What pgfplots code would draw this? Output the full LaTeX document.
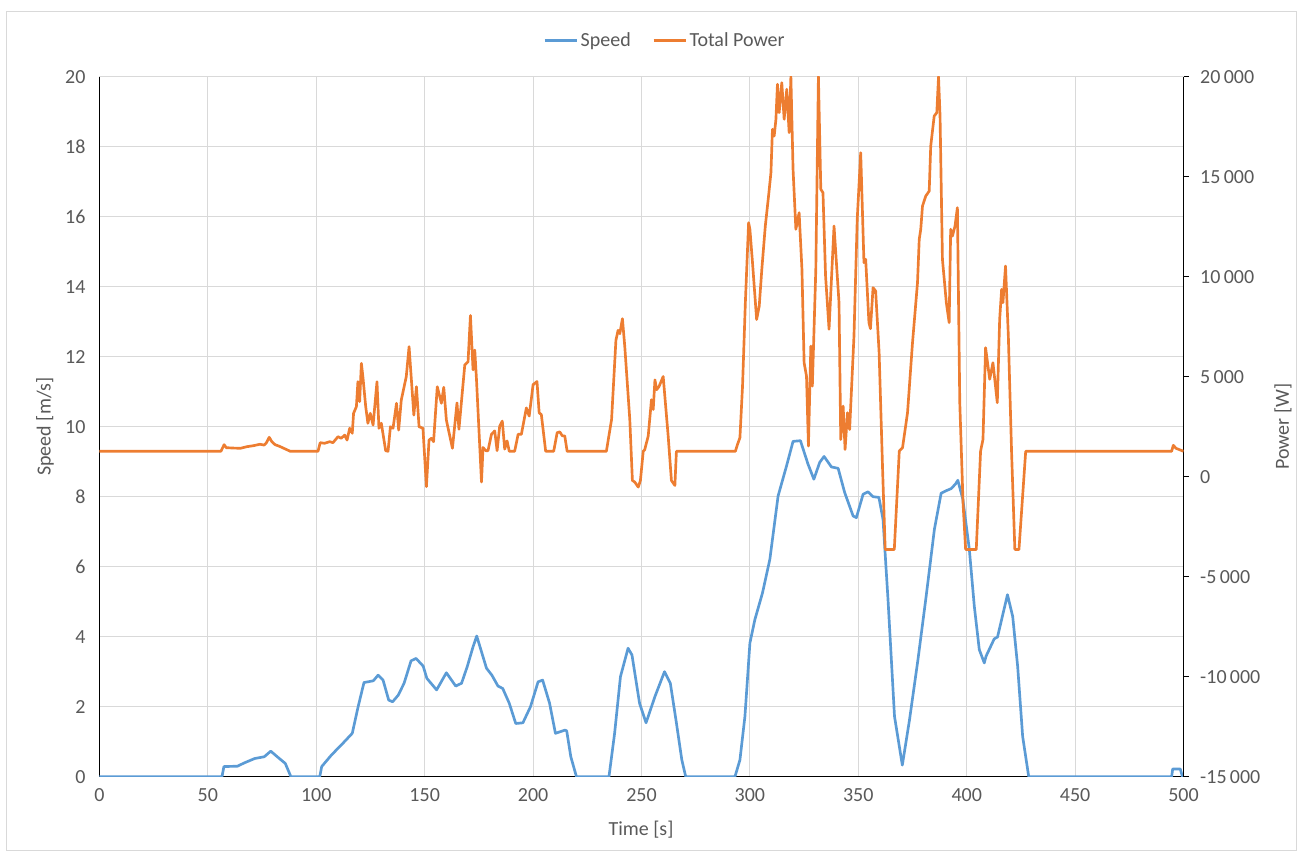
\documentclass[border=0pt]{standalone}
\usepackage{fontspec}
\setmainfont{Carlito}
\usepackage{pgfplots}
\usepackage{pgfplotstable}
\pgfplotsset{compat=1.18}
\definecolor{spd}{HTML}{5B9BD5}
\definecolor{pwr}{HTML}{ED7D31}
\definecolor{txt}{HTML}{595959}
\definecolor{grd}{HTML}{D9D9D9}

\pgfplotstableread{
t v
0 0
56.5 0
57.4 0.29
63.6 0.30
67 0.40
71.6 0.52
76 0.57
79 0.73
82 0.57
85.7 0.38
88.3 0
101.6 0
102.5 0.29
107 0.62
112.2 0.95
116.6 1.24
119.3 2.0
122 2.69
126.3 2.74
128.5 2.9
130.8 2.76
133.4 2.19
135.2 2.14
137.8 2.33
140.5 2.67
143.7 3.31
146 3.38
149.3 3.16
151 2.81
155.5 2.48
160 2.97
164.3 2.59
167 2.67
169.6 3.14
172.3 3.71
174 4.02
178.5 3.1
181 2.9
183.8 2.59
186 2.52
189 2.1
192 1.52
195.3 1.54
198.8 2.0
202.3 2.71
204.4 2.76
207.6 2.1
210.3 1.24
214.7 1.33
215.5 1.31
217.4 0.57
220 0
235 0
237.6 1.24
240.3 2.86
243.8 3.67
245.6 3.48
249.1 2.1
252.1 1.54
256.2 2.29
260.6 3.0
263.3 2.67
265.9 1.62
268.6 0.48
270.4 0
293.1 0
295.4 0.48
297.7 1.72
300 3.82
302.3 4.49
305.8 5.25
309.2 6.21
313 8.02
316.9 8.88
319.9 9.58
323.3 9.6
326.8 8.93
329.5 8.5
332.2 8.98
334.2 9.15
337.6 8.85
340.7 8.81
343.7 8.12
347.6 7.45
349.1 7.4
352.2 8.07
354.5 8.14
356.8 8.0
359.5 7.98
361.4 7.35
363.7 5.06
366.7 1.72
370.3 0.33
373.6 1.62
377.5 3.34
381.3 5.16
385.1 7.07
388.2 8.1
390.5 8.17
392.8 8.23
394.8 8.36
395.9 8.47
398.2 7.93
401.2 6.5
403.5 4.87
405.8 3.63
408.1 3.25
408.9 3.44
412.7 3.94
414.2 3.99
418.8 5.2
421.2 4.58
423.5 3.15
425.8 1.15
428.6 0
494.5 0
495 0.22
498.5 0.22
499.5 0
500 0
}\speedtab

\pgfplotstableread{
t p
0 1270
56 1270
57.5 1600
58.5 1450
62 1430
65 1420
68 1500
71 1550
74 1620
76 1580
77 1700
78.3 1970
79.5 1750
81 1600
83 1520
85 1420
88 1270
100.8 1270
101.8 1700
103.8 1670
106.2 1750
107.7 1700
110 2000
111.5 1920
113.1 2080
114.2 1830
115.4 2420
116.6 2170
117.2 3170
118.5 3500
119.2 4750
120 3750
120.8 5670
121.5 5000
122.8 3500
123.8 2670
124.9 3170
126.2 2580
128 4750
128.9 2420
130 2670
132 1300
133.1 1270
134.2 2500
135.4 2420
137 3670
138 2330
139.2 3830
141.5 5000
142.8 6500
145 3080
146.2 4500
147.4 2500
149.2 2420
150.8 -500
152 1830
153.1 1920
154.1 1750
155.8 4500
157.7 3670
158.8 4470
160 2830
162.8 1420
164.9 3690
165.8 2370
168.5 5590
170 5750
171.1 8060
172.3 5340
173.1 6330
173.9 4840
176.2 -270
176.9 1460
178.2 1300
179.2 1300
180.8 2120
182.3 2290
183.4 1300
184.6 2530
185.8 2780
186.9 1380
188 1790
189 1270
191.5 1270
193.1 2120
194.6 2120
196.9 3440
198.2 3030
200 4600
201.8 4760
202.8 3190
203.8 3110
205.8 1270
209.5 1270
211.1 2200
212.3 2240
213.5 2040
214.6 2040
215.7 1270
233.8 1270
236.2 2860
238.2 6820
239.2 7320
240 7150
241.2 7900
242.3 6490
244.6 2860
245.8 -190
246.9 -270
248.5 -520
249.5 -190
250.8 1270
251.5 1350
253.1 2040
254.6 3850
255.4 3360
256.2 4840
257 4350
258.1 4510
260 5010
262.3 2040
263.8 -190
265.4 -440
266.1 1270
293.3 1270
294.3 1620
295.4 1950
296.6 4530
297.9 8700
299.4 12700
300 12370
301.2 10700
303.1 7860
304.3 8530
305.5 10370
307.1 12530
308.6 14030
309.7 15200
310.4 17370
311.2 17030
312 17870
312.7 19620
313.5 18200
314.7 19700
315.8 17870
317 19370
318.1 17200
318.9 20000
319.9 15370
321.2 12370
322.7 13200
324 10370
325 5700
326.1 5030
327 1530
328.1 6530
328.8 4530
330.4 10370
331.6 20000
332.7 14370
333.7 14200
334.9 10030
336.5 7370
338.8 12530
341.1 8700
341.9 1860
343 3530
343.9 1360
345 3200
346 2360
348 7030
349.5 12870
351.1 16200
352.6 10700
353.4 10870
354.9 7700
355.6 7400
356.8 9450
358 9280
359.6 6200
361.2 360
362.4 -3640
366.6 -3640
368.9 1280
370.4 1450
372.7 3200
375 6700
377.3 9700
378.1 11870
378.8 12370
379.6 13530
381.1 14030
382.7 14280
383.4 16530
385 18030
386.2 18200
387 20000
387.7 18030
388.8 10870
390.6 8700
391.9 7700
392.6 12370
393.4 12030
394.6 12530
395.7 13450
396.8 3700
398.3 -1300
399.5 -3640
404.4 -3640
406.4 1280
407.5 1860
408.7 6450
410.6 4870
412.1 5700
414.1 3700
415.2 7870
416.1 9370
416.7 8700
417.9 10530
419.2 7030
420.7 1200
422.2 -3640
424.1 -3640
427.2 1270
494.5 1270
495.3 1570
496.5 1420
500 1270
}\powertab

\begin{document}
\begin{tikzpicture}
\pgfplotsset{
  common/.style={
    scale only axis, width=813pt, height=525pt,
    xmin=0, xmax=500,
    ticklabel style={font=\fontsize{15}{18}\selectfont, text=txt},
    label style={font=\fontsize{15}{18}\selectfont, text=txt},
    /pgf/number format/assume math mode=true,
    /pgf/number format/1000 sep={\,},
  }
}
\draw[grd, line width=0.75pt] (-70pt,-55.5pt) rectangle (898pt,574pt);
\begin{axis}[common,
  ymin=0, ymax=20,
  xtick={0,50,...,500}, ytick={0,2,...,20},
  grid=major, major grid style={grd, line width=0.75pt},
  axis x line*=bottom, axis y line*=left,
  axis line style={black, line width=1.1pt},
  tick style={draw=none},
  xticklabel style={yshift=-5pt},
  yticklabel style={xshift=-7pt},
  xlabel={Time [s]}, ylabel={Speed [m/s]},
  xlabel style={at={(axis description cs:0.4995,-0.0761)}, anchor=center},
  ylabel style={at={(axis description cs:-0.0503,0.5)}, anchor=center},
]
\addplot[spd, line width=2pt, line join=round] table[x=t, y=v] {\speedtab};
\end{axis}
\begin{axis}[common,
  ymin=-15000, ymax=20000,
  axis x line=none, axis y line*=right,
  axis line style={black, line width=1.1pt},
  ytick={-15000,-10000,...,20000},
  scaled y ticks=false,
  tick style={black, line width=0.8pt},
  major tick length=4pt, tick align=outside,
  yticklabel style={xshift=5pt},
  ylabel={Power [W]},
  ylabel style={at={(axis description cs:1.0918,0.5)}, anchor=center},
  legend columns=2,
  legend style={at={(axis description cs:0.522,1.052)}, anchor=center,
    draw=none, fill=none, font=\fontsize{15}{18}\selectfont, text=txt,
    /tikz/every even column/.append style={column sep=14pt}},
  legend image code/.code={\draw[#1] (0pt,0pt) -- (24pt,0pt);},
]
\addlegendimage{spd, line width=2pt}
\addlegendentry{Speed}
\addplot[pwr, line width=2pt, line join=round] table[x=t, y=p] {\powertab};
\addlegendentry{Total Power}
\end{axis}
\pgfresetboundingbox
\path (-74.6pt,-60.2pt) rectangle (902.6pt,582.5pt);
\end{tikzpicture}
\end{document}
